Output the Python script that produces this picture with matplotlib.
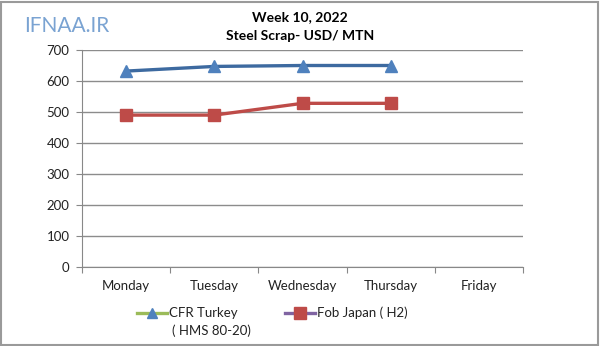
import matplotlib
matplotlib.use("Agg")
import matplotlib.pyplot as plt
from matplotlib.lines import Line2D
from matplotlib.patches import Rectangle

days = ["Monday", "Tuesday", "Wednesday", "Thursday", "Friday"]
cfr_turkey = [632, 647, 650, 650]
fob_japan = [490, 490, 528, 528]
yticks = [0, 100, 200, 300, 400, 500, 600, 700]

plt.rcParams['font.family'] = ['Lato', 'DejaVu Sans']

fig = plt.figure(figsize=(6, 3.46), dpi=100)
W, H = 600, 346
ax = fig.add_axes([82 / W, 1 - 267 / H, (523 - 82) / W, (267 - 50) / H])

x = [i + 0.5 for i in range(len(cfr_turkey))]
blue = "#3D6AA0"
red = "#BE4B48"
ax.plot(x, cfr_turkey, color=blue, lw=2.4, marker="^", ms=8, mfc="#4F81BD", mec="#4F81BD", zorder=3)
ax.plot(x, fob_japan, color=red, lw=2.4, marker="s", ms=8, mfc=red, mec=red, zorder=3)

ax.set_xlim(0, 5)
ax.set_ylim(0, 700)
ax.set_yticks(yticks)
ax.set_xticks(range(6))
ax.set_xticklabels([])
ax.set_xticks([i + 0.5 for i in range(5)], minor=True)
ax.set_xticklabels(days, minor=True)
ax.tick_params(axis="x", which="minor", length=0, pad=9, labelsize=9.5, colors="#222222")
ax.tick_params(axis="x", which="major", length=4, color="#888888", direction="out")
ax.tick_params(axis="y", length=4, color="#888888", labelsize=9.5, colors="#222222", pad=5)
ax.grid(axis="y", color="#8C8C8C", lw=1)
ax.set_axisbelow(True)
for s in ["top", "right"]:
    ax.spines[s].set_visible(False)
for s in ["left", "bottom"]:
    ax.spines[s].set_color("#888888")

# Title
fig.text(300 / W, 1 - 17 / H, "Week 10, 2022", ha="center", va="center", fontsize=10, fontweight="bold")
fig.text(300 / W, 1 - 36 / H, "Steel Scrap- USD/ MTN", ha="center", va="center", fontsize=10, fontweight="bold")

# Watermark
fig.text(24 / W, 1 - 26 / H, "IFNAA.IR", ha="left", va="center", fontsize=15, color="#7AA3D2")

# Legend drawn manually (Excel-style mismatched line colors)
def fy(py):
    return 1 - py / H

def fx(px):
    return px / W

fig.lines.append(Line2D([fx(137), fx(167)], [fy(313), fy(313)], transform=fig.transFigure,
                        color="#9BBB59", lw=2.4))
fig.lines.append(Line2D([fx(152)], [fy(313)], transform=fig.transFigure, marker="^", ms=7,
                        mfc="#4F81BD", mec="#4F81BD", lw=0))
fig.text(fx(169), fy(313), "CFR Turkey", ha="left", va="center", fontsize=9.5, color="#222222")
fig.text(fx(172), fy(331), "( HMS 80-20)", ha="left", va="center", fontsize=9.5, color="#222222")

fig.lines.append(Line2D([fx(285), fx(315)], [fy(313), fy(313)], transform=fig.transFigure,
                        color="#8064A2", lw=2.4))
fig.lines.append(Line2D([fx(300)], [fy(313)], transform=fig.transFigure, marker="s", ms=8,
                        mfc=red, mec=red, lw=0))
fig.text(fx(317), fy(313), "Fob Japan ( H2)", ha="left", va="center", fontsize=9.5, color="#222222")

# outer frame
fig.patches.append(Rectangle((1 / W, 1 / H), 1 - 3 / W, 1 - 3 / H, transform=fig.transFigure,
                             fill=False, ec="#9A9A9A", lw=1.5))

fig.savefig("out.png", dpi=100)
